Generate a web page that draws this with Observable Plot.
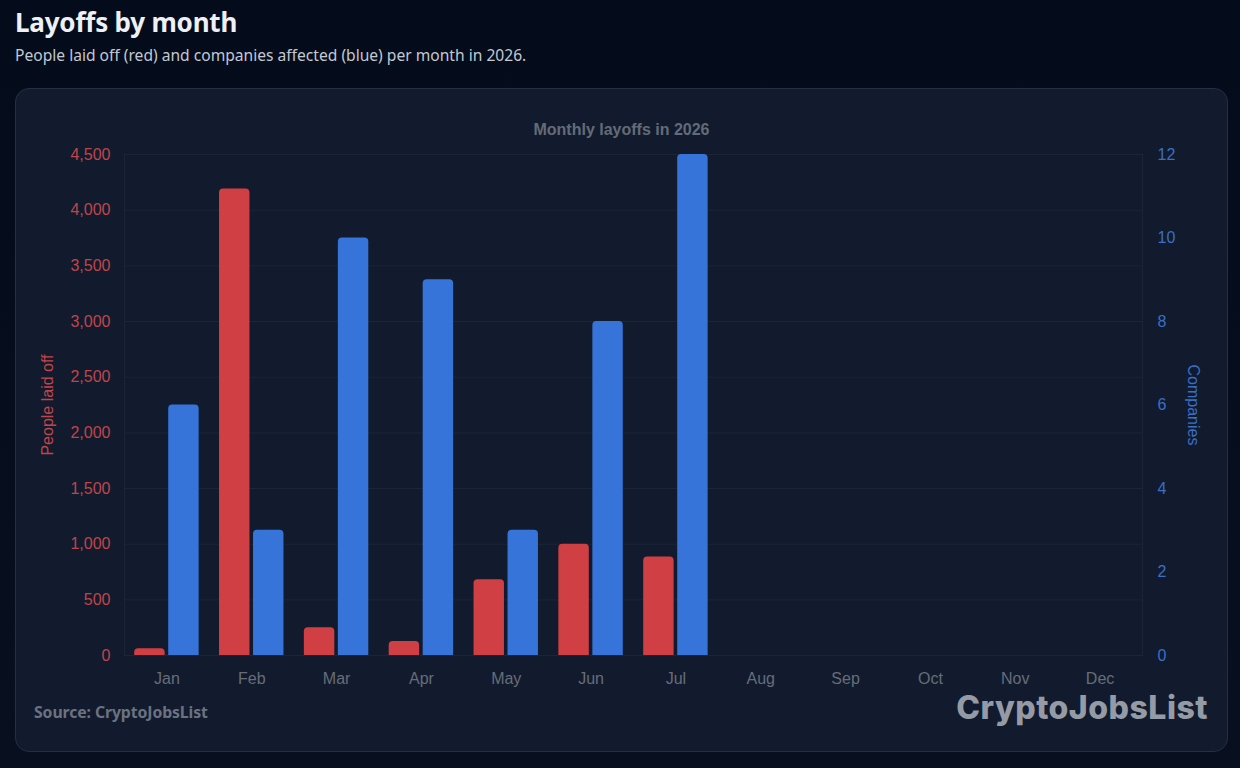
<!DOCTYPE html>
<html>
<head>
<meta charset="utf-8">
<script src="https://cdn.jsdelivr.net/npm/d3@7"></script>
<script src="https://cdn.jsdelivr.net/npm/@observablehq/plot@0.6"></script>
<style>
  html, body { margin: 0; padding: 0; }
  body {
    width: 1240px; height: 768px; overflow: hidden;
    background: linear-gradient(180deg, #040c1c 0%, #08101f 100%);
    font-family: "Noto Sans", "Open Sans", sans-serif;
    position: relative;
  }
  #title {
    position: absolute; left: 15px; top: 4px;
    font-size: 26px; font-weight: 700; color: #eef0f4; letter-spacing: -0.2px;
  }
  #subtitle {
    position: absolute; left: 15px; top: 44px;
    font-size: 15.6px; color: #c3c8d1;
  }
  #card {
    position: absolute; left: 15px; top: 88px; width: 1213px; height: 664px;
    box-sizing: border-box; background: #121b2d; border: 1px solid #252f42;
    border-radius: 14px;
  }
  #chartTitle {
    position: absolute; left: 0; right: 0; top: 30px; line-height: 22px;
    text-align: center; font-family: "Liberation Sans", Arial, sans-serif;
    font-weight: 700; font-size: 16px; color: #646b78;
  }
  #chart { position: absolute; left: 0; top: 49px; }
  #source {
    position: absolute; left: 18px; top: 611px; line-height: 24px;
    font-size: 15.8px; font-weight: 700; color: #6b7281; letter-spacing: -0.1px;
  }
  #logo {
    position: absolute; right: 19px; top: 599px; line-height: 40px;
    font-family: Inter, "Noto Sans", sans-serif; font-size: 32px; font-weight: 800;
    color: #959ba6; letter-spacing: 0.5px;
  }
</style>
</head>
<body>
<div id="title">Layoffs by month</div>
<div id="subtitle">People laid off (red) and companies affected (blue) per month in 2026.</div>
<div id="card">
  <div id="chartTitle">Monthly layoffs in 2026</div>
  <div id="chart"></div>
  <div id="source">Source: CryptoJobsList</div>
  <div id="logo">CryptoJobsList</div>
</div>
<script>
const months = ["Jan","Feb","Mar","Apr","May","Jun","Jul","Aug","Sep","Oct","Nov","Dec"];
const dataMonths = ["Jan","Feb","Mar","Apr","May","Jun","Jul"];
const peopleLaidOff = [60, 4190, 250, 125, 680, 1000, 885];
const companiesAffected = [6, 3, 10, 9, 3, 8, 12];
const leftTicks = [0, 500, 1000, 1500, 2000, 2500, 3000, 3500, 4000, 4500];
const rightTicks = [0, 2, 4, 6, 8, 10, 12];

const leftMax = 4500, rightMax = 12;
const ratio = leftMax / rightMax;

const red = "#d03f43", blue = "#3674d9";
const redText = "#c0454a", blueText = "#3a6fc6", greyText = "#666d79";
const gridColor = "#1c2538";

const rows = dataMonths.map((m, i) => ({month: m, people: peopleLaidOff[i], companies: companiesAffected[i]}));

const chart = Plot.plot({
  width: 1211,
  height: 557,
  marginLeft: 108,
  marginRight: 85,
  marginTop: 16,
  marginBottom: 40,
  style: {background: "transparent", fontFamily: "'Liberation Sans', Arial, sans-serif", fontSize: "16px"},
  x: {domain: months, padding: 0, round: false, axis: null},
  y: {domain: [0, leftMax], axis: null},
  marks: [
    Plot.gridY(leftTicks, {stroke: gridColor, strokeOpacity: 1}),
    Plot.frame({stroke: gridColor}),
    Plot.barY(rows, {x: "month", y: "people", fill: red, insetLeft: 10.2, insetRight: 44.2, insetBottom: -6, rx: 4, clip: true}),
    Plot.barY(rows, {x: "month", y: d => d.companies * ratio, fill: blue, insetLeft: 44.2, insetRight: 10.2, insetBottom: -6, rx: 4, clip: true}),
    Plot.axisX({tickSize: 0, tickPadding: 17, fill: greyText, fontSize: 16, label: null}),
    Plot.axisY({anchor: "left", ticks: leftTicks, tickFormat: d3.format(","), tickSize: 0, tickPadding: 14, fill: redText, fontSize: 16, label: null}),
    Plot.axisY({anchor: "right", ticks: rightTicks.map(v => v * ratio), tickFormat: d => String(Math.round(d / ratio)), tickSize: 0, tickPadding: 15, fill: blueText, fontSize: 16, label: null}),
    Plot.text(["People laid off"], {text: d => d, frameAnchor: "left", textAnchor: "middle", dx: -77, rotate: -90, fill: redText, fontSize: 16}),
    Plot.text(["Companies"], {text: d => d, frameAnchor: "right", textAnchor: "middle", dx: 51, rotate: 90, fill: blueText, fontSize: 16})
  ]
});
document.getElementById("chart").appendChild(chart);
</script>
</body>
</html>
